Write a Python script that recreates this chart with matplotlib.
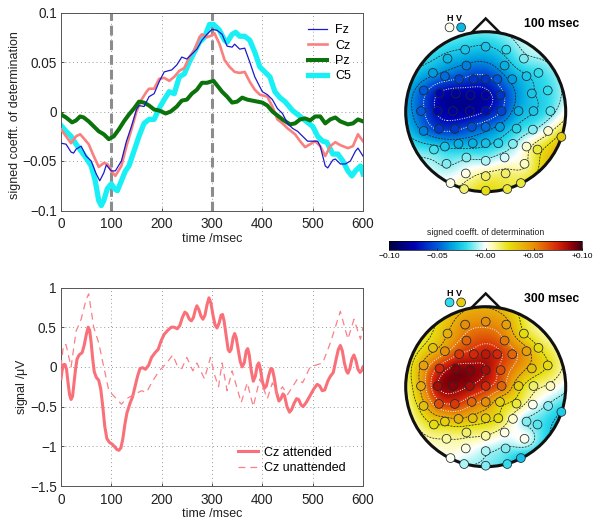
import numpy as np
import matplotlib
matplotlib.use("Agg")
import matplotlib.pyplot as plt
from matplotlib.colors import LinearSegmentedColormap
from matplotlib.patches import Circle

plt.rcParams['font.family'] = ['Liberation Sans', 'DejaVu Sans']
plt.rcParams['mathtext.fontset'] = 'custom'
plt.rcParams['mathtext.rm'] = 'Liberation Sans'
plt.rcParams['mathtext.default'] = 'regular'

fz_t = [0,10,20,25,30,40,50,60,70,77,85,90,100,108,120,130,140,150,155,165,175,185,195,205,220,230,240,250,260,270,280,290,300,310,320,330,340,345,355,365,375,385,400,410,420,430,440,450,460,470,480,490,500,510,515,525,530,540,545,555,565,575,585,590,600]
fz_v = [-.032,-.033,-.041,-.042,-.038,-.035,-.045,-.05,-.063,-.07,-.062,-.054,-.06,-.06,-.05,-.03,-.015,.002,.006,.005,.015,.018,.03,.04,.042,.047,.055,.053,.058,.063,.072,.078,.083,.082,.078,.066,.065,.068,.063,.064,.05,.035,.02,.017,.012,.003,-.002,-.012,-.017,-.02,-.025,-.03,-.03,-.03,-.035,-.055,-.057,-.049,-.048,-.053,-.053,-.05,-.04,-.037,-.045]
cz_t = [0,10,20,30,38,45,55,65,75,85,92,100,108,120,130,140,150,160,170,175,185,195,205,215,225,235,245,255,265,275,280,290,300,305,315,325,335,345,355,365,375,385,395,410,420,430,440,450,465,475,485,495,505,515,525,535,545,555,570,580,590,600]
cz_v = [-.018,-.025,-.032,-.025,-.023,-.027,-.033,-.045,-.056,-.052,-.053,-.06,-.065,-.055,-.035,-.018,0,.012,.02,.023,.023,.033,.034,.031,.035,.041,.044,.055,.062,.075,.078,.075,.077,.079,.068,.052,.045,.04,.039,.04,.03,.022,.017,.015,.005,-.008,-.012,-.017,-.023,-.03,-.036,-.033,-.03,-.035,-.045,-.035,-.031,-.034,-.037,-.035,-.023,-.03]
pz_t = [0,10,22,30,38,45,55,65,75,85,95,105,115,125,135,145,155,165,175,185,195,208,218,230,240,250,260,270,280,290,303,320,330,340,350,360,370,380,400,410,420,430,440,455,465,475,485,495,505,515,525,535,545,555,570,580,590,600]
pz_v = [-.003,-.006,-.011,-.009,-.005,-.006,-.01,-.015,-.02,-.023,-.028,-.025,-.018,-.01,-.003,.003,.01,.009,.006,.002,.001,-.002,0,.005,.011,.012,.018,.022,.029,.029,.031,.02,.015,.009,.01,.014,.012,.011,.009,.006,0,-.004,-.008,-.013,-.012,-.008,-.007,-.009,-.005,-.005,-.012,-.008,-.006,-.01,-.013,-.012,-.008,-.01]
c5_t = [0,10,20,30,40,50,60,68,75,80,85,92,100,106,112,120,128,135,145,155,165,175,185,195,205,215,225,235,245,255,265,275,285,295,303,315,325,330,340,347,355,365,375,385,395,405,415,425,435,445,460,475,490,500,510,520,528,540,550,560,570,578,585,595,600]
c5_v = [-.014,-.02,-.025,-.033,-.04,-.047,-.055,-.07,-.09,-.095,-.09,-.078,-.073,-.078,-.08,-.07,-.06,-.055,-.04,-.025,-.012,-.008,-.008,.003,.012,.02,.018,.035,.038,.05,.06,.07,.075,.088,.088,.082,.072,.07,.078,.08,.076,.076,.072,.06,.045,.04,.035,.02,.014,.01,.001,-.005,-.011,-.015,-.025,-.03,-.031,-.043,-.043,-.05,-.06,-.065,-.06,-.055,-.063]

att_t = [0,2,5,8,11,14,17,20,23,26,29,32,36,42,46,50,54,57,60,63,66,70,75,79,83,87,91,96,101,106,111,115,119,123,127,131,137,142,147,152,157,162,168,174,180,187,193,199,205,212,219,225,231,236,241,246,250,255,259,263,267,270,274,278,282,286,290,294,298,302,306,310,314,318,321,324,328,332,335,338,342,345,348,352,356,360,364,368,371,374,378,382,386,390,393,396,400,404,408,413,417,420,424,428,433,437,441,444,449,454,458,463,468,472,477,481,487,495,503,509,514,519,524,530,535,541,546,551,555,559,563,567,570,574,578,582,586,590,594,598,600]
att_v = [-.15,-.05,.03,.03,-.03,-.2,-.35,-.41,-.37,-.2,-.02,.1,.15,.18,.27,.4,.5,.46,.3,.1,-.06,-.13,-.17,-.28,-.5,-.75,-.9,-.95,-.97,-1.0,-1.04,-1.05,-1.02,-.9,-.72,-.58,-.46,-.38,-.25,-.12,-.02,-.01,-.03,.02,.12,.18,.22,.33,.41,.46,.5,.5,.48,.52,.62,.69,.67,.6,.58,.62,.72,.77,.72,.64,.6,.65,.78,.87,.8,.65,.53,.49,.55,.65,.66,.58,.4,.22,.19,.22,.37,.42,.37,.22,.07,0,.05,.2,.23,.15,-.05,-.18,-.12,.02,.05,-.02,-.18,-.27,-.24,-.1,-.02,-.03,-.15,-.32,-.43,-.4,-.34,-.36,-.5,-.57,-.54,-.46,-.4,-.41,-.48,-.5,-.45,-.36,-.27,-.22,-.24,-.3,-.29,-.18,-.12,-.07,.08,.22,.27,.2,.05,-.05,-.08,-.02,.1,.15,.08,-.03,-.07,-.04,0]
un_t = [0,5,10,20,30,40,50,55,65,75,85,95,110,120,130,145,160,170,180,195,210,222,232,240,250,262,270,285,297,305,313,320,330,340,358,370,382,395,410,420,430,440,450,470,480,495,520,535,555,570,582,595,600]
un_v = [0,.28,.28,0,.45,.6,.85,.92,.5,.3,0,-.3,-.4,-.47,-.4,-.35,-.3,-.32,-.2,-.05,.05,.15,0,-.02,.12,-.05,.05,-.15,.12,-.1,-.25,.05,-.3,-.05,-.45,-.2,-.5,-.15,-.4,-.2,-.35,-.25,-.35,-.15,-.2,0,.05,.3,.7,.35,.6,.35,.5]

elec_x = [317,255,379,202,432,259,374,158,476,194,440,237,281,317,352,397,130,504,178,227,271,317,362,456,122,172,218,269,317,365,416,461,512,130,176,224,275,317,360,410,459,505,545,161,194,235,278,317,355,399,440,473,199,259,317,374,434,257,317,377,211,252,317,382,423]
elec_y = [139,148,148,175,175,196,196,218,218,228,228,237,237,237,237,237,271,271,280,280,285,285,285,280,333,333,333,333,333,333,333,333,333,393,387,387,381,381,381,386,389,393,411,449,440,432,430,430,430,432,440,449,492,473,483,473,492,521,529,521,550,568,573,568,550]
vals_100 = [-2.6,-2.6,-2,-3,-1.3,-4.2,-3.2,-3.6,-2,-4.6,-2.6,-5.5,-6,-6,-5,-3.6,-5,-2,-7.2,-7.8,-7.8,-7.5,-6,-2.6,-5,-7.2,-7.8,-7.8,-7,-5.5,-3.2,-2.6,-1.6,-4.2,-5.8,-5.8,-5.2,-4.6,-3.6,-2.2,-1.2,.5,3,-1.8,-2.6,-3.2,-3.2,-2.8,-2.2,-1.2,.5,2,-1.2,-1.2,-.8,-.4,.7,.3,1.5,1.5,.3,1.5,2.5,2,2]
vals_300 = [5,5,4.5,4,2.5,6,5.5,3.5,2.5,5,4.5,7,7.5,8,7.5,6,4.5,2.5,7.5,9,9,8.5,6.5,3.5,4.2,8.5,9,8.5,7.5,6,3,1.5,.7,3.5,6.5,7,6,5,3,2,.2,-1.2,-2.5,2.5,3,4,3.5,3,2.5,.5,-1.2,-1.6,1,1.5,1,.3,.2,.3,-.8,-1.2,.1,-.8,-1.2,-2,-2.8]
eog_100 = [0.2, -3]
eog_300 = [-2, 3]
cbar_ticks = [-0.10, -0.05, 0.0, 0.05, 0.10]
cbar_labels = ['\u22120.10', '\u22120.05', '+0.00', '+0.05', '+0.10']

W, H = 600, 524
fig = plt.figure(figsize=(6, 5.24), dpi=100)

def px_axes(x0, y0, x1, y1, **kw):
    return fig.add_axes([x0/W, 1-y1/H, (x1-x0)/W, (y1-y0)/H], **kw)

def style(ax):
    ax.set_xlim(0, 600)
    ax.set_xticks(range(0, 601, 100))
    ax.grid(True, ls=(0, (1, 3)), color='#999999', lw=0.7)
    ax.tick_params(direction='in', length=2.5, width=0.6, labelsize=9.8, color='#333333', pad=3, labelcolor='#222222')
    ax.tick_params(axis='x', pad=5)
    for s in ax.spines.values():
        s.set_color('#555555'); s.set_linewidth(0.7)
    ax.set_axisbelow(True)
    ax.set_xlabel('time /msec', fontsize=9, labelpad=1, color='#222222')

ax1 = px_axes(61, 12.5, 363, 210.5)
style(ax1)
ax1.set_ylim(-0.1, 0.1)
ax1.set_yticks([-0.1, -0.05, 0, 0.05, 0.1])
ax1.set_yticklabels(['\u22120.1', '\u22120.05', '0', '0.05', '0.1'])
ax1.set_ylabel('signed coefft. of determination', fontsize=9, color='#222222')
ax1.yaxis.set_label_coords(-0.132, 0.48)
for t in (100, 300):
    ax1.axvline(t, color='#8c8c8c', lw=2.2, ls=(0, (3.2, 1.6)), zorder=1)
ax1.plot(fz_t, fz_v, color='#1a1acc', lw=0.9, label='Fz', zorder=4)
ax1.plot(cz_t, cz_v, color='#fa8080', lw=1.9, label='Cz', zorder=3)
ax1.plot(pz_t, pz_v, color='#0b730b', lw=2.9, label='Pz', zorder=3)
ax1.plot(c5_t, c5_v, color='#19f0f5', lw=3.8, label='C5', zorder=2)
ax1.legend(loc='upper right', bbox_to_anchor=(0.96, 0.94), frameon=False, fontsize=9,
           labelspacing=0.26, handlelength=1.5, handletextpad=0.65, borderpad=0, borderaxespad=0)

ax2 = px_axes(61, 287.5, 363, 486)
style(ax2)
ax2.set_ylim(-1.5, 1)
ax2.set_yticks([-1.5, -1, -0.5, 0, 0.5, 1])
ax2.set_yticklabels(['\u22121.5', '\u22121', '\u22120.5', '0', '0.5', '1'])
ax2.set_ylabel('signal /$\\mu$V', fontsize=9, color='#222222')
ax2.yaxis.set_label_coords(-0.103, 0.5)
ax2.plot(att_t, att_v, color='#fa7078', lw=2.2, label='Cz attended', zorder=3)
ax2.plot(un_t, un_v, color='#fa8088', lw=0.9, ls=(0, (5.5, 4)), label='Cz unattended', zorder=3)
ax2.legend(loc='lower right', bbox_to_anchor=(0.944, 0.06), frameon=False, fontsize=9,
           labelspacing=0.26, handlelength=1.6, handletextpad=0.55, borderpad=0, borderaxespad=0)

cmap = LinearSegmentedColormap.from_list('bwy', [
    (0.0, '#000040'), (0.13, '#0000b0'), (0.25, '#0058d8'), (0.33, '#00a8e0'), (0.40, '#30dcec'),
    (0.46, '#b0f4f4'), (0.5, '#ffffff'), (0.54, '#fdfab0'), (0.62, '#e8e010'), (0.75, '#e89008'),
    (0.87, '#d82808'), (0.95, '#900008'), (1.0, '#400010')])
norm = plt.Normalize(-0.1, 0.1)

def tps(xs, ys, zs, gx, gy):
    def kernel(r):
        with np.errstate(divide='ignore', invalid='ignore'):
            k = r**2*np.log(r)
        return np.nan_to_num(k)
    n = len(xs)
    K = kernel(np.hypot(xs[:, None]-xs[None], ys[:, None]-ys[None])) + 2e-3*np.eye(n)
    P = np.c_[np.ones(n), xs, ys]
    A = np.block([[K, P], [P.T, np.zeros((3, 3))]])
    sol = np.linalg.solve(A, np.r_[zs, 0, 0, 0])
    d = kernel(np.hypot(gx[..., None]-xs, gy[..., None]-ys))
    return d @ sol[:n] + sol[n] + sol[n+1]*gx + sol[n+2]*gy

def head(cy, vals, eog, title):
    ax = px_axes(385.7, cy-100, 585.7, cy+100)
    ax.set_xlim(-1.25, 1.25); ax.set_ylim(-1.25, 1.25)
    ax.set_aspect('equal'); ax.axis('off')
    ex = (np.array(elec_x)-317)/241
    ey = -(np.array(elec_y)-335)/241
    z = np.array(vals)/100
    g = np.linspace(-1, 1, 300)
    gx, gy = np.meshgrid(g, g)
    f = tps(ex, ey, z, gx, gy)
    f = np.ma.masked_where(np.hypot(gx, gy) > 1, f)
    clip = Circle((0, 0), 1, transform=ax.transData)
    im = ax.imshow(f, extent=(-1, 1, -1, 1), origin='lower', cmap=cmap, norm=norm, interpolation='bilinear', zorder=1)
    im.set_clip_path(clip)
    levs_out = [-0.04, -0.025, -0.01, 0.01, 0.025, 0.04]
    levs_in = [-0.07, -0.055, 0.055, 0.07, 0.085]
    ax.contour(gx, gy, f, levels=levs_out, colors='#202020', linewidths=0.55, linestyles=[(0, (2.5, 1.5))], zorder=2)
    ax.contour(gx, gy, f, levels=levs_in, colors='#f4f4f4', linewidths=0.7, linestyles=[(0, (1, 1.5))], zorder=2)
    ax.add_patch(Circle((0, 0), 1, fill=False, ec='#111111', lw=2.2, zorder=5))
    ax.plot([-0.17, 0, 0.17], [0.995, 1.165, 0.995], color='#111111', lw=1.8, zorder=5, solid_joinstyle='miter')
    ax.scatter(ex, ey, s=40, c=z, cmap=cmap, norm=norm, edgecolors='#1a2a30', linewidths=0.55, zorder=6, clip_on=False)
    ax.scatter([-0.452, -0.307], [1.054, 1.054], s=40, c=np.array(eog)/100, cmap=cmap, norm=norm,
               edgecolors='#1a2a30', linewidths=0.55, zorder=6, clip_on=False)
    ax.text(-0.452, 1.165, 'H', fontsize=6.5, fontweight='bold', ha='center', va='center', zorder=6)
    ax.text(-0.34, 1.165, 'V', fontsize=6.5, fontweight='bold', ha='center', va='center', zorder=6)
    ax.text(0.82, 1.095, title, fontsize=8.8, fontweight='bold', ha='center', va='center', zorder=6)

head(111.7, vals_100, eog_100, '100 msec')
head(386.7, vals_300, eog_300, '300 msec')

cax = px_axes(389, 240.7, 582, 250)
sm = plt.cm.ScalarMappable(norm=norm, cmap=cmap)
cb = fig.colorbar(sm, cax=cax, orientation='horizontal')
cb.set_ticks(cbar_ticks)
cb.set_ticklabels(cbar_labels)
cb.ax.tick_params(direction='in', length=1.5, width=0.5, labelsize=6.1, pad=2.5)
cb.outline.set_linewidth(0.5)
fig.text(485.5/W, 1-232/H, 'signed coefft. of determination', fontsize=6.3, ha='center', va='center', color='#222222')

fig.savefig('out.png', dpi=100)
